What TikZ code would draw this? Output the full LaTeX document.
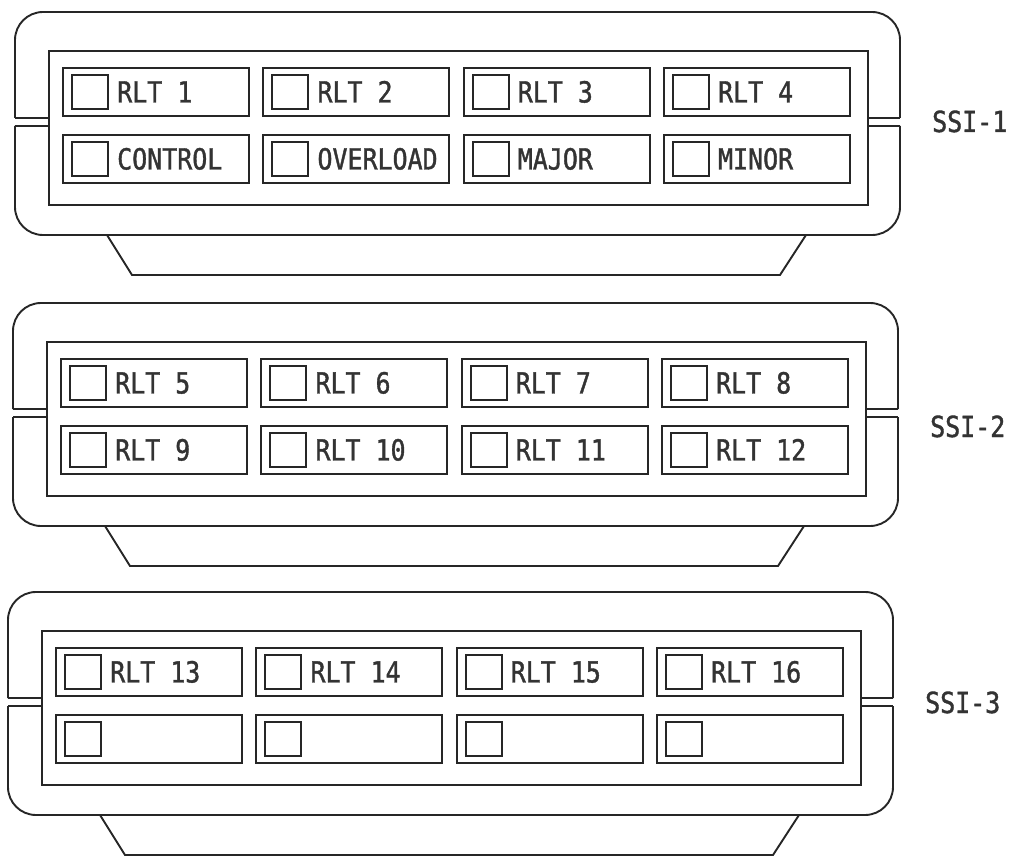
\documentclass[tikz,border=0pt]{standalone}
\usepackage{fontspec}
\newfontfamily\plotfont[FakeStretch=0.86,FakeBold=1.3]{DejaVu Sans Mono}
\tikzset{
  ln/.style={line width=1.9pt, draw=black!85, line join=miter},
  frame/.style={ln, rectangle, anchor=north west, inner sep=0pt, minimum width=819pt, minimum height=154pt},
  btn/.style={ln, rectangle, minimum width=186pt, minimum height=48pt, inner sep=0pt, anchor=north west},
  lamp/.style={ln, rectangle, minimum width=36pt, minimum height=34pt, inner sep=0pt, anchor=west},
  lbl/.style={font=\plotfont\fontsize{29}{30}\selectfont, inner sep=0pt, anchor=base west, text=black!80},
}
% #1 name, #2 x, #3 y, #4 side label, #5 label baseline, #6 button texts
\newcommand\ssiunit[6]{%
  \begin{scope}[shift={(#2,#3)}]
    \draw[ln, rounded corners=28pt] (0,106) -- (0,0) -- (885,0) -- (885,106);
    \draw[ln, rounded corners=28pt] (0,114) -- (0,223) -- (885,223) -- (885,114);
    \draw[ln] (0,106) -- (33,106) (0,114) -- (33,114)
              (885,106) -- (852,106) (885,114) -- (852,114);
    \draw[ln] (92,223) -- (117,263) -- (765,263) -- (791,223);
    \node[frame] (#1in) at (33,38) {};
    \foreach \r in {0,1} {
      \foreach \c in {0,1,2,3} {
        \node[btn] (#1b\r\c) at ({47+200.3*\c},{55+67*\r}) {};
        \node[lamp] (#1l\r\c) at ([xshift=9pt]#1b\r\c.west) {};
      }
    }
    \foreach \r/\c/\t in {#6} {
      \node[lbl] (#1t\r\c) at ([xshift=55pt,yshift=-10.5pt]#1b\r\c.west) {\t};
    }
    \node[lbl] (#1lab) at (917,#5) {#4};
  \end{scope}%
}
\begin{document}
\begin{tikzpicture}[x=1pt,y=-1pt]
  \useasboundingbox (0,0) rectangle (1010,856);
  \ssiunit{ua}{15}{12}{SSI-1}{120}{0/0/RLT 1,0/1/RLT 2,0/2/RLT 3,0/3/RLT 4,1/0/CONTROL,1/1/OVERLOAD,1/2/MAJOR,1/3/MINOR}
  \ssiunit{ub}{13}{303}{SSI-2}{134}{0/0/RLT 5,0/1/RLT 6,0/2/RLT 7,0/3/RLT 8,1/0/RLT 9,1/1/RLT 10,1/2/RLT 11,1/3/RLT 12}
  \ssiunit{uc}{8}{592}{SSI-3}{121}{0/0/RLT 13,0/1/RLT 14,0/2/RLT 15,0/3/RLT 16}
\end{tikzpicture}
\end{document}
